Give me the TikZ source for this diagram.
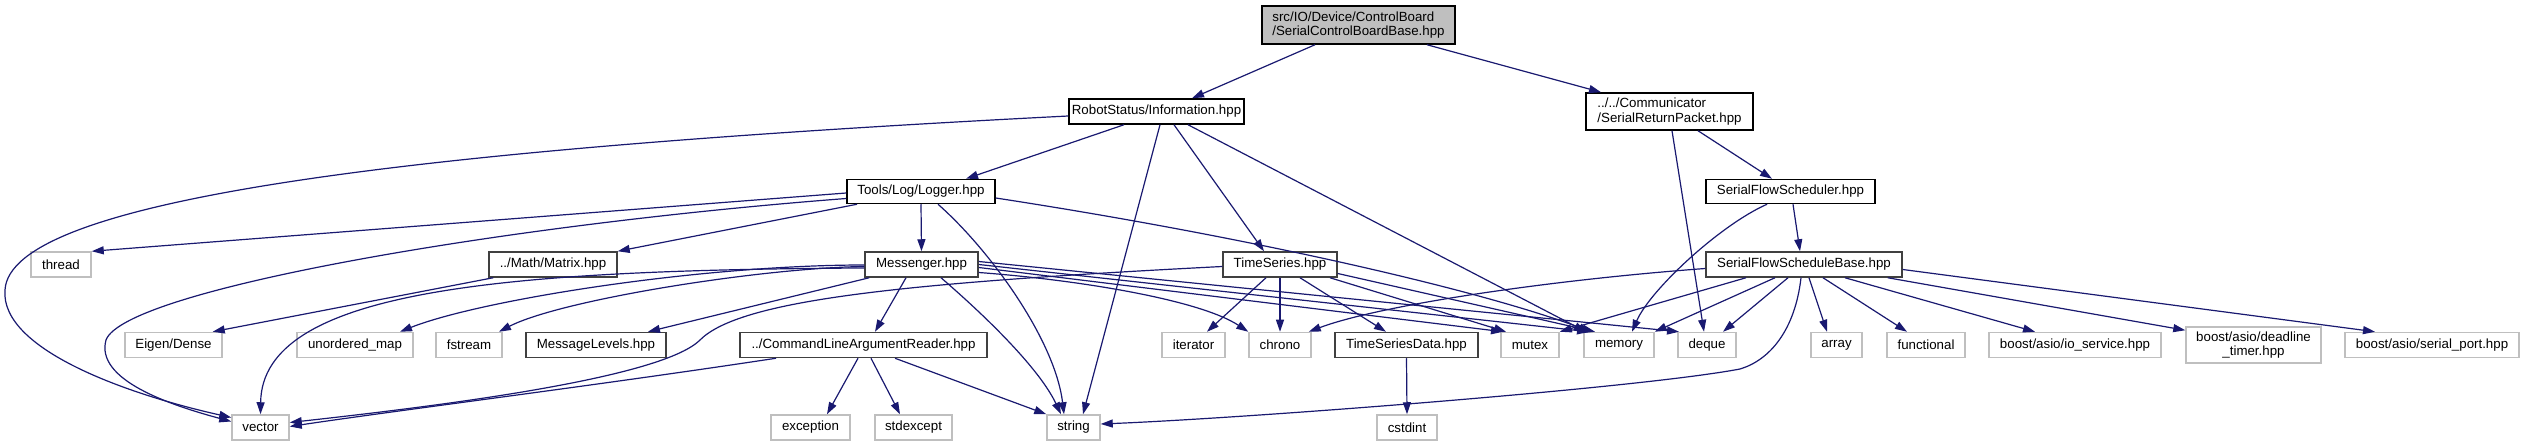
\documentclass[tikz,border=0pt]{standalone}
\usepackage{fontspec}
\setmainfont{Liberation Sans}
\usetikzlibrary{arrows.meta}
\definecolor{edgeblue}{RGB}{25,25,112}
\definecolor{gsys}{RGB}{191,191,191}
\definecolor{gdark}{RGB}{64,64,64}
\begin{document}
\begin{tikzpicture}[x=1pt,y=-1pt,
  box/.style={draw, rectangle, inner sep=0pt, line width=1.5pt, minimum height=25pt, font=\fontsize{13.3}{14.5}\selectfont},
  doc/.style={box, draw=black},
  docg/.style={box, draw=gdark},
  sys/.style={box, draw=gsys},
  edge/.style={draw=edgeblue, line width=1.2pt, -{Triangle[length=12pt,width=8pt]}}]
\path[use as bounding box, fill=white] (0,0) rectangle (2525,443);
% nodes
\node[doc, fill=gsys, minimum width=193pt, minimum height=38pt, align=left] (root) at (1358.5,25) {src/IO/Device/ControlBoard\\/SerialControlBoardBase.hpp};
\node[doc, minimum width=175pt] (info) at (1156.5,111.5) {RobotStatus/Information.hpp};
\node[doc, minimum width=167pt, minimum height=37pt, align=left] (srp) at (1669.5,111.5) {../../Communicator\\/SerialReturnPacket.hpp};
\node[doc, minimum width=148pt, minimum height=24pt] (logger) at (921,191.5) {Tools/Log/Logger.hpp};
\node[doc, minimum width=169pt, minimum height=24pt] (sfs) at (1790.5,191.5) {SerialFlowScheduler.hpp};
\node[sys, minimum width=60pt] (thread) at (61,264.5) {thread};
\node[docg, minimum width=128pt] (matrix) at (553,264.5) {../Math/Matrix.hpp};
\node[docg, minimum width=113pt] (messenger) at (921.5,264.5) {Messenger.hpp};
\node[docg, minimum width=114pt] (timeseries) at (1280,264.5) {TimeSeries.hpp};
\node[docg, minimum width=196pt] (sfsb) at (1804,264.5) {SerialFlowScheduleBase.hpp};
\node[sys, minimum width=97pt] (eigen) at (173.5,345) {Eigen/Dense};
\node[sys, minimum width=116pt] (umap) at (355,345) {unordered\_map};
\node[sys, minimum width=66pt] (fstream) at (469,345) {fstream};
\node[docg, minimum width=140pt] (msglevels) at (596,345) {MessageLevels.hpp};
\node[docg, minimum width=247pt] (clar) at (863.5,345) {../CommandLineArgumentReader.hpp};
\node[sys, minimum width=63pt] (iterator) at (1193.5,345) {iterator};
\node[sys, minimum width=62pt] (chrono) at (1280,345) {chrono};
\node[docg, minimum width=143pt] (tsd) at (1406.5,345) {TimeSeriesData.hpp};
\node[sys, minimum width=58pt] (mutex) at (1530,345) {mutex};
\node[sys, minimum width=70pt] (memory) at (1619,345) {memory};
\node[sys, minimum width=58pt] (deque) at (1707,345) {deque};
\node[sys, minimum width=51pt] (array) at (1836.5,345) {array};
\node[sys, minimum width=78pt] (functional) at (1926,345) {functional};
\node[sys, minimum width=172pt] (ioservice) at (2075,345) {boost/asio/io\_service.hpp};
\node[sys, minimum width=135pt, minimum height=36pt, align=center] (deadline) at (2253.5,345) {boost/asio/deadline\\\_timer.hpp};
\node[sys, minimum width=174pt] (serialport) at (2432,345) {boost/asio/serial\_port.hpp};
\node[sys, minimum width=57pt] (vector) at (260.5,427.5) {vector};
\node[sys, minimum width=79pt] (exception) at (810.5,427.5) {exception};
\node[sys, minimum width=77pt] (stdexcept) at (913.5,427.5) {stdexcept};
\node[sys, minimum width=53pt] (string) at (1073.5,427.5) {string};
\node[sys, minimum width=60pt] (cstdint) at (1407,427.5) {cstdint};
% edges
\draw[edge] ([xshift=-43.5pt]root.south) -- ([xshift=35.5pt]info.north);
\draw[edge] ([xshift=68.5pt]root.south) -- ([xshift=-68.5pt]srp.north);
\draw[edge] ([yshift=-4.5pt]info.west) .. controls (400,150) and (10,200) .. (5,290) .. controls (0,350) and (130,395) .. ([yshift=10pt]vector.west);
\draw[edge] ([xshift=-32.5pt]info.south) -- ([xshift=45pt]logger.north);
\draw[edge] ([xshift=3.5pt]info.south) -- ([xshift=9.5pt]string.north);
\draw[edge] ([xshift=17.5pt]info.south) -- ([xshift=-16pt]timeseries.north);
\draw[edge] ([xshift=31.5pt]info.south) -- ([xshift=-33pt]memory.north);
\draw[edge] ([xshift=28.5pt]srp.south) -- ([xshift=-18.5pt]sfs.north);
\draw[edge] ([xshift=2.5pt]srp.south) -- ([xshift=-3pt]deque.north);
\draw[edge] ([yshift=-1.5pt]logger.west) -- (thread.north east);
\draw[edge] ([yshift=-7pt]logger.west) .. controls (500,225) and (125,290) .. (106,340) .. controls (95,380) and (170,405) .. ([yshift=6pt]vector.west);
\draw[edge] ([xshift=-64pt]logger.south) -- (matrix.north east);
\draw[edge] (logger.south) -- (messenger.north);
\draw[edge] ([xshift=17pt]logger.south) .. controls (990,250) and (1055,340) .. ([xshift=-9.5pt]string.north);
\draw[edge] ([yshift=-6.5pt]logger.east) .. controls (1250,237) and (1480,290) .. ([xshift=-28pt]memory.north);
\draw[edge] ([xshift=2.5pt]sfs.south) -- ([xshift=-4pt]sfsb.north);
\draw[edge] ([xshift=-23.5pt]sfs.south) .. controls (1720,225) and (1650,290) .. ([xshift=13pt]memory.north);
\draw[edge] ([xshift=5pt]matrix.south west) -- ([xshift=-10pt]eigen.north east);
\draw[edge] ([yshift=-3.5pt]messenger.west) .. controls (500,270) and (262,290) .. (vector.north);
\draw[edge] ([yshift=-0.5pt]messenger.west) .. controls (700,265) and (480,300) .. ([xshift=45pt]umap.north);
\draw[edge] ([yshift=-2pt]messenger.west) .. controls (760,268) and (560,300) .. ([xshift=30pt]fstream.north);
\draw[edge] ([xshift=5pt]messenger.south west) -- ([xshift=52pt]msglevels.north);
\draw[edge] ([xshift=-15.5pt]messenger.south) -- ([xshift=11.5pt]clar.north);
\draw[edge] ([xshift=19.5pt]messenger.south) .. controls (990,320) and (1040,370) .. ([xshift=-12.5pt]string.north);
\draw[edge] ([yshift=-8pt]messenger.east) .. controls (1080,280) and (1200,300) .. (chrono.north west);
\draw[edge] ([yshift=-3pt]messenger.east) -- ([xshift=-27pt]mutex.north);
\draw[edge] (messenger.east) -- ([xshift=-30pt]memory.north);
\draw[edge] ([yshift=3pt]messenger.east) -- ([xshift=-28pt]deque.north);
\draw[edge] ([yshift=-2pt]timeseries.west) .. controls (900,283) and (740,300) .. (700,340) .. controls (660,380) and (420,408) .. ([yshift=5pt]vector.east);
\draw[edge] ([xshift=-14pt]timeseries.south) -- ([xshift=13.5pt]iterator.north);
\draw[edge] (timeseries.south) -- (chrono.north);
\draw[edge] ([xshift=20pt]timeseries.south) -- ([xshift=-20.5pt]tsd.north);
\draw[edge] ([xshift=50pt]timeseries.south) -- ([xshift=-24pt]mutex.north);
\draw[edge] ([yshift=-9pt]timeseries.east) -- ([xshift=-24pt]memory.north);
\draw[edge] ([yshift=-4pt]sfsb.west) .. controls (1550,280) and (1380,305) .. ([xshift=-3pt]chrono.north east);
\draw[edge] ([xshift=-58pt]sfsb.south) -- (mutex.north east);
\draw[edge] ([xshift=-29pt]sfsb.south) -- (memory.north east);
\draw[edge] ([xshift=-16pt]sfsb.south) -- ([xshift=16pt]deque.north);
\draw[edge] ([xshift=-3pt]sfsb.south) .. controls (1795,330) and (1770,360) .. (1740,369) .. controls (1640,388) and (1250,418) .. ([yshift=3.5pt]string.east);
\draw[edge] ([xshift=5pt]sfsb.south) -- ([xshift=-9.5pt]array.north);
\draw[edge] ([xshift=19pt]sfsb.south) -- ([xshift=-19pt]functional.north);
\draw[edge] ([xshift=41pt]sfsb.south) -- ([xshift=-40pt]ioservice.north);
\draw[edge] ([xshift=-15pt]sfsb.south east) -- ([yshift=-4pt]deadline.north west);
\draw[edge] ([yshift=-5pt]sfsb.east) -- ([xshift=-57pt]serialport.north);
\draw[edge] (tsd.south) -- (cstdint.north);
\draw[edge] ([xshift=-87.5pt]clar.south) .. controls (600,385) and (400,410) .. ([yshift=1pt]vector.east);
\draw[edge] ([xshift=-5.5pt]clar.south) -- ([xshift=16.5pt]exception.north);
\draw[edge] ([xshift=7.5pt]clar.south) -- ([xshift=-13.5pt]stdexcept.north);
\draw[edge] ([xshift=31.5pt]clar.south) -- (string.north west);
\end{tikzpicture}
\end{document}
